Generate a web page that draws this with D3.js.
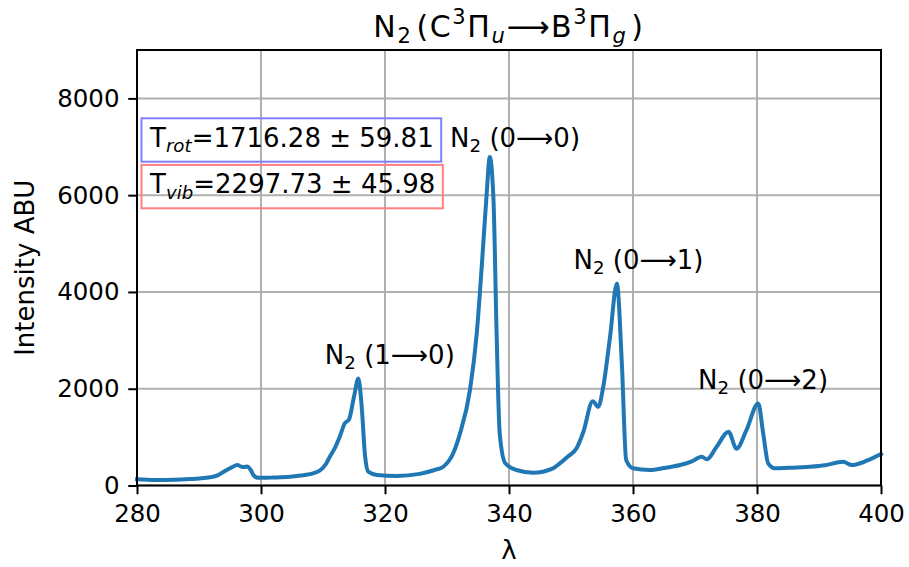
<!DOCTYPE html>
<html>
<head>
<meta charset="utf-8">
<script src="https://cdn.jsdelivr.net/npm/d3@7"></script>
<style>
  body { margin: 0; background: #fff; }
  svg text { font-family: 'DejaVu Sans', sans-serif; fill: #000; }
</style>
</head>
<body>
<div id="chart"></div>
<script>
'use strict';

// spectrum (wavelength in nm, intensity in a.u.)
var wavelength = [
  280, 283, 286, 288.5, 290, 291.8, 293, 294, 295.2, 296.2, 296.8, 297.3, 297.8, 298.3, 298.9, 299.5,
  300.3, 302, 304.7, 307, 308.4, 309.5, 310.5, 311.1, 312, 312.7, 313.5, 314.2, 315, 315.7, 316.2,
  316.8, 317.3, 318.7, 321.9, 325.6, 328, 329.4, 331, 332.1, 333.7, 334.8, 335.6, 336.4, 336.9,
  337.5, 338, 338.5, 339.4, 341.2, 343.9, 347.1, 348.2, 349.5, 350.9, 352, 353.5, 354.4, 355.2,
  356.3, 357.4, 358.2, 358.9, 360, 362.7, 365, 367.6, 369.5, 371.1, 371.9, 373.5, 375.4, 376.7,
  378.3, 380.2, 381, 381.8, 382.9, 385, 388.5, 391, 393.9, 395.3, 397.7, 400
];
var intensity = [
  128, 114, 120, 134, 145, 169, 210, 286, 370, 423, 390, 380, 395, 330, 196, 161,
  158, 165, 182, 215, 252, 310, 450, 595, 800, 1007, 1284, 1367, 1834, 2213, 1697,
  595, 285, 217, 196, 240, 320, 388, 665, 1077, 1971, 3142, 4517, 6032, 6788,
  5894, 3142, 1077, 458, 320, 265, 355, 458, 600, 768, 1110, 1740, 1627, 2040,
  3072, 4174, 2523, 526, 355, 320, 360, 423, 500, 595, 541, 801, 1111, 760,
  1146, 1697, 1077, 458, 355, 365, 388, 420, 491, 423, 512, 650
];

// band labels, anchored at their left baseline in data units
var bandUpper = [ '1', '0', '0', '0' ];
var bandLower = [ '0', '0', '1', '2' ];
var bandX = [ 310.3, 330.5, 350.4, 370.5 ];
var bandY = [ 2520, 7000, 4480, 1990 ];

var tempNames = [ 'rot', 'vib' ];
var tempValues = [ '1716.28', '2297.73' ];
var tempErrors = [ '59.81', '45.98' ];

var xTicks = [ 280, 300, 320, 340, 360, 380, 400 ];
var yTicks = [ 0, 2000, 4000, 6000, 8000 ];

var width = 909,
    height = 567,
    margin = { top: 50, right: 28, bottom: 81.5, left: 137 },
    fontSize = 26,
    tickFont = 24.5,
    titleFont = 30,
    titleWidth = 273;

var plotW = width - margin.left - margin.right,
    plotH = height - margin.top - margin.bottom;

var x = d3.scaleLinear()
    .domain( [ 280, 400 ] )
    .range( [ 0, plotW ] );

var y = d3.scaleLinear()
    .domain( [ 0, 9000 ] )
    .range( [ plotH, 0 ] );

// text with matplotlib-like sub/superscripts
function addRich( textSel, parts, size ) {
  var shift = 0;
  parts.forEach( function( p ) {
    var target = p.sub ? 0.2 * size : ( p.sup ? -0.45 * size : 0 );
    var ts = textSel.append( 'tspan' )
      .attr( 'dy', target - shift )
      .text( p.t );
    if ( p.sub || p.sup ) {
      ts.attr( 'font-size', size * 0.7 );
    }
    if ( p.it ) {
      ts.attr( 'font-style', 'italic' );
    }
    if ( p.gap ) {
      ts.attr( 'dx', p.gap );
    }
    shift = target;
  } );
}

var svg = d3.select( '#chart' )
  .append( 'svg' )
    .attr( 'width', width )
    .attr( 'height', height );

var g = svg.append( 'g' )
    .attr( 'transform', 'translate(' + margin.left + ',' + margin.top + ')' );

// grid
g.append( 'g' )
  .selectAll( 'line' )
  .data( xTicks )
  .enter().append( 'line' )
    .attr( 'x1', function( d ) { return x( d ); } )
    .attr( 'x2', function( d ) { return x( d ); } )
    .attr( 'y1', 0 )
    .attr( 'y2', plotH )
    .attr( 'stroke', '#b0b0b0' )
    .attr( 'stroke-width', 2 );

g.append( 'g' )
  .selectAll( 'line' )
  .data( yTicks )
  .enter().append( 'line' )
    .attr( 'x1', 0 )
    .attr( 'x2', plotW )
    .attr( 'y1', function( d ) { return y( d ); } )
    .attr( 'y2', function( d ) { return y( d ); } )
    .attr( 'stroke', '#b0b0b0' )
    .attr( 'stroke-width', 2 );

// spectrum
var points = wavelength.map( function( w, i ) { return [ w, intensity[i] ]; } );
var line = d3.line()
    .curve( d3.curveMonotoneX )
    .x( function( d ) { return x( d[0] ); } )
    .y( function( d ) { return y( d[1] ); } );

g.append( 'path' )
    .attr( 'd', line( points ) )
    .attr( 'fill', 'none' )
    .attr( 'stroke', '#1f77b4' )
    .attr( 'stroke-width', 4 )
    .attr( 'stroke-linejoin', 'round' )
    .attr( 'stroke-linecap', 'square' );

// axes
var xAxis = g.append( 'g' )
    .attr( 'transform', 'translate(0,' + plotH + ')' )
    .call( d3.axisBottom( x ).tickValues( xTicks ).tickFormat( d3.format( 'd' ) )
      .tickSize( 8.75 ).tickPadding( 8.75 ) );

var yAxis = g.append( 'g' )
    .call( d3.axisLeft( y ).tickValues( yTicks ).tickFormat( d3.format( 'd' ) )
      .tickSize( 8.75 ).tickPadding( 8.75 ) );

[ xAxis, yAxis ].forEach( function( ax ) {
  ax.select( '.domain' ).remove();
  ax.selectAll( 'line' ).attr( 'stroke', '#000' ).attr( 'stroke-width', 2 );
  ax.selectAll( 'text' )
    .attr( 'font-size', tickFont )
    .style( 'font-family', "'DejaVu Sans', sans-serif" );
} );
xAxis.selectAll( 'text' ).attr( 'dy', null ).attr( 'y', 8.75 + 8.75 + tickFont * 0.76 );

// spines
g.append( 'rect' )
    .attr( 'width', plotW )
    .attr( 'height', plotH )
    .attr( 'fill', 'none' )
    .attr( 'stroke', '#000' )
    .attr( 'stroke-width', 2 );

// band labels
bandX.forEach( function( bx, i ) {
  var t = g.append( 'text' )
      .attr( 'x', x( bx ) )
      .attr( 'y', y( bandY[i] ) )
      .attr( 'font-size', fontSize );
  addRich( t, [
    { t: 'N' },
    { t: '2', sub: true },
    { t: ' (' + bandUpper[i] + '\u27F6' + bandLower[i] + ')' }
  ], fontSize );
} );

// temperature boxes
var boxColors = [ '#8080ff', '#ff8080' ];
tempNames.forEach( function( name, i ) {
  var base = 96.7 + i * 46.6;
  var box = g.append( 'rect' );
  var t = g.append( 'text' )
      .attr( 'x', 13 )
      .attr( 'y', base )
      .attr( 'font-size', fontSize );
  addRich( t, [
    { t: 'T' },
    { t: name, sub: true, it: true },
    { t: '=' + tempValues[i] + ' \u00B1 ' + tempErrors[i] }
  ], fontSize );
  var bb = t.node().getBBox();
  box.attr( 'x', bb.x - 7.5 )
      .attr( 'y', base - 28.4 )
      .attr( 'width', bb.width + 15 )
      .attr( 'height', 43.4 )
      .attr( 'fill', 'none' )
      .attr( 'stroke', boxColors[i] )
      .attr( 'stroke-width', 2 );
} );

// title
var title = svg.append( 'text' )
    .attr( 'x', margin.left + plotW / 2 )
    .attr( 'y', 37 )
    .attr( 'text-anchor', 'middle' )
    .attr( 'font-size', titleFont );
addRich( title, [
  { t: 'N' },
  { t: '2', sub: true },
  { t: '(C', gap: 4 },
  { t: '3', sup: true },
  { t: '\u03A0' },
  { t: 'u', sub: true, it: true },
  { t: '\u27F6B' },
  { t: '3', sup: true },
  { t: '\u03A0' },
  { t: 'g', sub: true, it: true },
  { t: ')', gap: 4 }
], titleFont );
// stretch the spacing a little so the title spans what the picture shows
var tw = title.node().getBBox().width;
if ( tw < titleWidth ) {
  title.attr( 'letter-spacing', ( titleWidth - tw ) / 14 );
}

// axis labels
svg.append( 'text' )
    .attr( 'transform', 'translate(34,' + ( margin.top + plotH / 2 ) + ') rotate(-90)' )
    .attr( 'text-anchor', 'middle' )
    .attr( 'font-size', fontSize )
    .text( 'Intensity ABU' );

svg.append( 'text' )
    .attr( 'x', margin.left + plotW / 2 )
    .attr( 'y', 559 )
    .attr( 'text-anchor', 'middle' )
    .attr( 'font-size', fontSize )
    .text( '\u03BB' );
</script>
</body>
</html>
